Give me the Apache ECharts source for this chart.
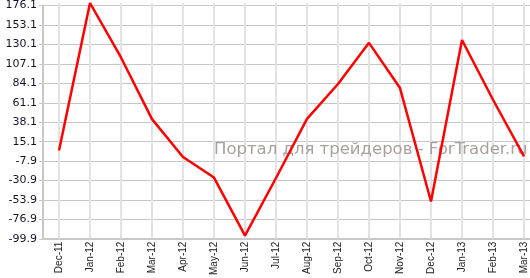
<!DOCTYPE html>
<html>
<head>
<meta charset="utf-8">
<script src="https://cdn.jsdelivr.net/npm/echarts@6/dist/echarts.min.js"></script>
<style>html,body{margin:0;padding:0;background:#fff;}#c{width:530px;height:278px;}</style>
</head>
<body>
<div id="c"></div>
<script>
const months = ['Dec-11','Jan-12','Feb-12','Mar-12','Apr-12','May-12','Jun-12','Jul-12','Aug-12','Sep-12','Oct-12','Nov-12','Dec-12','Jan-13','Feb-13','Mar-13'];
const values = [1.2, 176.1, 111.5, 38.3, -6.5, -31.0, -99.9, -31.5, 38.6, 80.0, 128.8, 75.2, -59.4, 132.2, 61.3, -5.8];
const yMin = -99.9;
const yMax = 176.1;
const yStep = 23;
const watermark = 'Портал для трейдеров - ForTrader.ru';

const shifted = values.map(v => +(v - yMin).toFixed(2));
const span = +(yMax - yMin).toFixed(2);

const chart = echarts.init(document.getElementById('c'), null, {renderer: 'canvas'});
chart.setOption({
  animation: false,
  backgroundColor: '#fff',
  grid: [
    {left: 59, right: 6, top: 3, bottom: 39},
    {left: 43, right: 0, top: 3, bottom: 39}
  ],
  xAxis: [
    {
      type: 'category', gridIndex: 0, data: months, boundaryGap: false,
      axisLine: {show: false},
      axisTick: {show: true, length: 3, lineStyle: {color: '#dddddd', width: 2}},
      axisLabel: {rotate: 90, margin: 6, fontSize: 10, fontFamily: 'Liberation Sans', color: '#222'},
      splitLine: {show: true, lineStyle: {color: '#e2e2e2', width: 2}}
    },
    {
      type: 'value', gridIndex: 1, min: 0, max: 1,
      axisLine: {show: true, lineStyle: {color: '#c8c8c8', width: 2}},
      axisTick: {show: false}, axisLabel: {show: false}, splitLine: {show: false}
    }
  ],
  yAxis: [
    {type: 'value', gridIndex: 0, min: 0, max: span, show: false, splitLine: {show: false}},
    {
      type: 'value', gridIndex: 1, min: 0, max: span, interval: yStep,
      axisLine: {show: true, lineStyle: {color: '#c8c8c8', width: 2}},
      axisTick: {show: true, length: 4, lineStyle: {color: '#c8c8c8'}},
      axisLabel: {margin: 6, fontSize: 11, fontFamily: 'DejaVu Sans', color: '#141428',
        formatter: v => (v + yMin).toFixed(1)},
      splitLine: {show: true, lineStyle: {color: '#c6c6c6', width: 1}}
    }
  ],
  graphic: [{
    type: 'text', left: 214, top: 141, z: 1,
    style: {text: watermark, font: '16.5px "DejaVu Sans"', fill: '#ab9f9f'}
  }],
  series: [{
    type: 'line', xAxisIndex: 0, yAxisIndex: 0, data: shifted,
    showSymbol: false, symbol: 'none', z: 5,
    lineStyle: {color: '#ff0000', width: 2.5}
  }]
});
</script>
</body>
</html>
